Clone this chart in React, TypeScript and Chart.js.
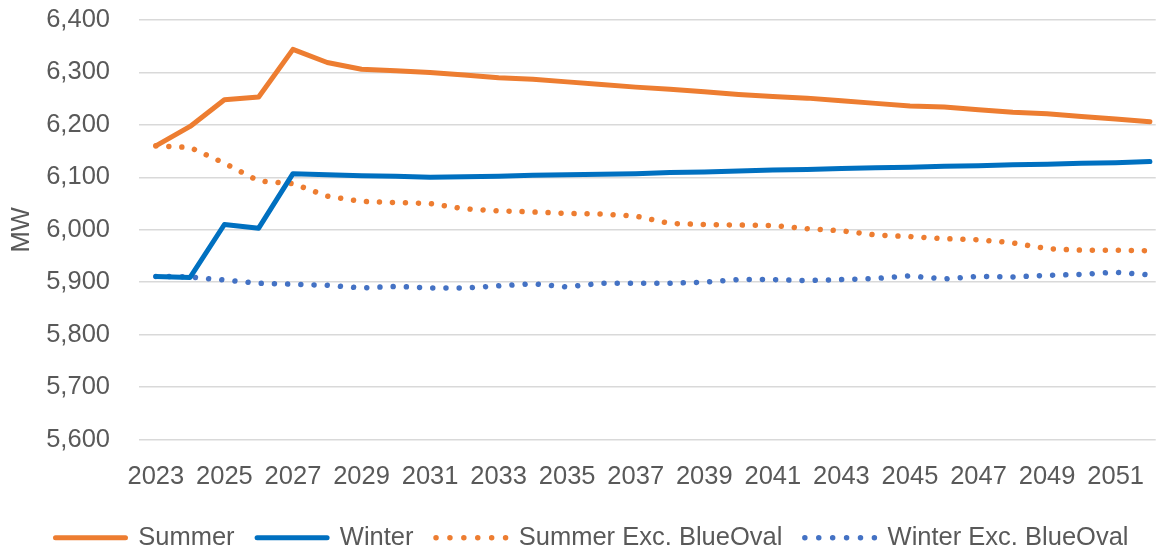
import React, { useEffect, useRef } from "react";
import { Chart, registerables } from "chart.js";

Chart.register(...registerables);

const years = [2023, 2024, 2025, 2026, 2027, 2028, 2029, 2030, 2031, 2032, 2033, 2034, 2035, 2036, 2037, 2038, 2039, 2040, 2041, 2042, 2043, 2044, 2045, 2046, 2047, 2048, 2049, 2050, 2051, 2052];
const xTickLabels = [2023, 2025, 2027, 2029, 2031, 2033, 2035, 2037, 2039, 2041, 2043, 2045, 2047, 2049, 2051];

const summer = [6160, 6197, 6248, 6253, 6344, 6319, 6306, 6303, 6300, 6295, 6290, 6287, 6282, 6277, 6272, 6268, 6263, 6258, 6254, 6251, 6246, 6241, 6236, 6234, 6229, 6224, 6221, 6216, 6211, 6206];
const winter = [5911, 5909, 6010, 6003, 6107, 6105, 6103, 6102, 6100, 6101, 6102, 6104, 6105, 6106, 6107, 6109, 6110, 6112, 6114, 6115, 6117, 6118, 6119, 6121, 6122, 6124, 6125, 6127, 6128, 6130];
const summerExc = [6160, 6157, 6127, 6093, 6088, 6064, 6054, 6052, 6050, 6040, 6036, 6034, 6031, 6030, 6026, 6012, 6010, 6009, 6008, 6002, 5998, 5990, 5987, 5983, 5981, 5975, 5964, 5961, 5961, 5960];
const winterExc = [5911, 5910, 5904, 5898, 5896, 5894, 5889, 5892, 5889, 5889, 5893, 5897, 5891, 5898, 5898, 5898, 5900, 5905, 5905, 5903, 5905, 5907, 5912, 5906, 5911, 5910, 5913, 5915, 5919, 5914];

const seriesNames = ["Summer", "Winter", "Summer Exc. BlueOval", "Winter Exc. BlueOval"];

const FONT = "'Liberation Sans', Arial, sans-serif";
const TEXT = "#595959";

const toPoints = (vals: number[]) => years.map((yr, i) => ({ x: yr, y: vals[i] }));

const shiftLegend = {
  id: "shiftLegend",
  afterLayout(chart: any) {
    const l = chart.legend;
    if (l) {
      l.top += 12.5;
      l.bottom += 12.5;
      l.left += 9;
      l.right += 9;
    }
  },
};

export default function App() {
  const ref = useRef<HTMLCanvasElement | null>(null);

  useEffect(() => {
    if (!ref.current) return;
    const common = {
      pointRadius: 0,
      pointHoverRadius: 0,
      tension: 0,
      fill: false,
      borderCapStyle: "round" as const,
      borderJoinStyle: "round" as const,
    };
    const chart = new Chart(ref.current, {
      type: "line",
      data: {
        datasets: [
          { ...common, label: seriesNames[0], data: toPoints(summer), borderColor: "#ED7D31", backgroundColor: "#ED7D31", borderWidth: 5, legendDash: [] },
          { ...common, label: seriesNames[1], data: toPoints(winter), borderColor: "#0070C0", backgroundColor: "#0070C0", borderWidth: 5, legendDash: [] },
          { ...common, label: seriesNames[2], data: toPoints(summerExc), borderColor: "#ED7D31", backgroundColor: "#ED7D31", borderWidth: 5.5, borderDash: [0.01, 13], legendDash: [0.01, 13.9] },
          { ...common, label: seriesNames[3], data: toPoints(winterExc), borderColor: "#4472C4", backgroundColor: "#4472C4", borderWidth: 5.5, borderDash: [0.01, 13.2], legendDash: [0.01, 13.9] },
        ],
      },
      options: {
        responsive: false,
        animation: false,
        devicePixelRatio: 1,
        layout: { padding: { top: 20, left: 0, right: 0, bottom: 0 } },
        scales: {
          x: {
            type: "linear",
            min: 2022.5,
            max: 2052.17,
            afterBuildTicks: (scale: any) => {
              scale.ticks = xTickLabels.map((v) => ({ value: v }));
            },
            afterFit: (scale: any) => {
              scale.height = 50.5;
            },
            grid: { display: false, drawTicks: false },
            border: { display: false },
            ticks: {
              autoSkip: false,
              maxRotation: 0,
              minRotation: 0,
              padding: 22,
              color: TEXT,
              font: { family: FONT, size: 25.5 },
              callback: (v: any) => String(v),
            },
          },
          y: {
            min: 5600,
            max: 6400,
            afterFit: (scale: any) => {
              scale.width = 138.7;
              scale.paddingTop = 15;
              scale.paddingBottom = 15;
            },
            grid: { color: "#D9D9D9", lineWidth: 1.5, drawTicks: false },
            border: { display: false },
            ticks: {
              stepSize: 100,
              padding: 28.7,
              color: TEXT,
              font: { family: FONT, size: 25.5 },
              callback: (v: any) => Number(v).toLocaleString("en-US"),
            },
            title: {
              display: true,
              text: "MW",
              color: TEXT,
              font: { family: FONT, size: 25.5 },
              padding: { top: 7, bottom: 0 },
            },
          },
        },
        plugins: {
          legend: {
            position: "bottom",
            labels: {
              usePointStyle: true,
              pointStyleWidth: 70,
              boxHeight: 10,
              padding: 22.5,
              color: TEXT,
              font: { family: FONT, size: 25.5 },
              generateLabels: (c: any) =>
                c.data.datasets.map((ds: any, i: number) => ({
                  text: ds.label,
                  fillStyle: ds.borderColor,
                  strokeStyle: ds.borderColor,
                  lineWidth: ds.borderWidth,
                  lineDash: ds.legendDash,
                  lineCap: "round",
                  lineJoin: "round",
                  pointStyle: "line",
                  fontColor: TEXT,
                  hidden: false,
                  datasetIndex: i,
                })),
            },
          },
          tooltip: { enabled: false },
        },
      },
      plugins: [shiftLegend],
    } as any);
    return () => chart.destroy();
  }, []);

  return (
    <div style={{ position: "fixed", left: 0, top: 0, width: 1166, height: 548, background: "#fff" }}>
      <canvas ref={ref} width={1166} height={548} style={{ display: "block" }} />
    </div>
  );
}
